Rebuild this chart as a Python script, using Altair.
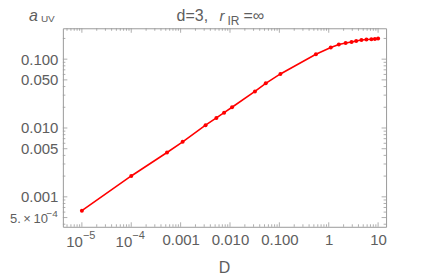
import altair as alt
import pandas as pd
import numpy as np

# ---- data ----
D_values = [1e-5, 1e-4, 5.3e-4, 1.1e-3, 3.2e-3, 5.3e-3, 7.6e-3, 0.011, 0.032, 0.053,
            0.105, 0.55, 1.1, 1.6, 2.2, 2.9, 3.6, 4.6, 5.8, 7.3, 8.6, 10.0]
a_values = [6.3e-4, 2.01e-3, 4.4e-3, 6.3e-3, 0.011, 0.014, 0.0167, 0.020, 0.034, 0.0445,
            0.061, 0.118, 0.148, 0.163, 0.172, 0.178, 0.184, 0.190, 0.193, 0.195, 0.197, 0.199]

x_tick_values = [1e-5, 1e-4, 1e-3, 1e-2, 1e-1, 1, 10]
x_tick_labels = ["", "", "0.001", "0.010", "0.100", "1", "10"]
x_pow_values = [1e-5, 1e-4]
x_pow_exps = ["−5", "−4"]

y_tick_values = [5e-4, 1e-3, 5e-3, 1e-2, 5e-2, 1e-1]
y_tick_labels = ["", "0.001", "0.005", "0.010", "0.050", "0.100"]
y_pow_values = [5e-4]
y_pow_mant = ["5.\u2009×\u200910"]
y_pow_exps = ["−4"]

x_minor = [m * 10.0 ** k for k in range(-6, 1) for m in range(2, 10)]
x_minor = [v for v in x_minor if 4.12e-6 <= v <= 14.5]
y_minor = [m * 10.0 ** k for k in range(-4, 0) for m in [2, 3, 4, 6, 7, 8, 9]]
y_minor = [v for v in y_minor if 3.67e-4 <= v <= 0.281]

W, H = 324, 199
x_domain = [4.12e-6, 14.5]
y_domain = [3.67e-4, 0.281]

TEXT = "#5e5e5e"
FRAME = "#9a9a9a"
FONT = "Liberation Sans"


def label_expr(vals, labels):
    expr = "''"
    for v, l in reversed(list(zip(vals, labels))):
        expr = f"abs(log(datum.value)/LN10 - ({np.log10(v):.4f})) < 0.01 ? '{l}' : " + expr
    return expr


xscale = alt.Scale(type="log", domain=x_domain, nice=False)
yscale = alt.Scale(type="log", domain=y_domain, nice=False)

df = pd.DataFrame({"D": D_values, "a": a_values})

xaxis = alt.Axis(values=x_tick_values, labelExpr=label_expr(x_tick_values, x_tick_labels),
                 ticks=False, domain=False, grid=False, labelFontSize=15, labelColor=TEXT,
                 labelFont=FONT, labelPadding=6, title=None, labelFlush=False)
yaxis = alt.Axis(values=y_tick_values, labelExpr=label_expr(y_tick_values, y_tick_labels),
                 ticks=False, domain=False, grid=False, labelFontSize=15, labelColor=TEXT,
                 labelFont=FONT, labelPadding=5, title=None, labelFlush=False)

X = lambda f: alt.X(f, scale=xscale, axis=xaxis)
Y = lambda f: alt.Y(f, scale=yscale, axis=yaxis)

base = alt.Chart(df)
line = base.mark_line(color="#ff0000", strokeWidth=1.6).encode(x=X("D:Q"), y=Y("a:Q"))
pts = base.mark_point(color="#ff0000", filled=True, opacity=1, size=16).encode(
    x=X("D:Q"), y=Y("a:Q"))


def xticks(vals, length):
    d = alt.Chart(pd.DataFrame({"v": vals}))
    b = d.mark_rule(color=FRAME, strokeWidth=0.8).encode(
        x=X("v:Q"), y=alt.value(H), y2=alt.value(H - length))
    t = d.mark_rule(color=FRAME, strokeWidth=0.8).encode(
        x=X("v:Q"), y=alt.value(0), y2=alt.value(length))
    return [b, t]


def yticks(vals, length):
    d = alt.Chart(pd.DataFrame({"v": vals}))
    l = d.mark_rule(color=FRAME, strokeWidth=0.8).encode(
        y=Y("v:Q"), x=alt.value(0), x2=alt.value(length))
    r = d.mark_rule(color=FRAME, strokeWidth=0.8).encode(
        y=Y("v:Q"), x=alt.value(W), x2=alt.value(W - length))
    return [l, r]


tick_layers = (xticks(x_tick_values, 4.5) + xticks(x_minor, 2.5)
               + yticks(y_tick_values, 4.5) + yticks(y_minor, 2.5))

# power-of-ten tick labels drawn as base + raised exponent
xp = alt.Chart(pd.DataFrame({"v": x_pow_values, "e": x_pow_exps}))
x_pow_base = xp.mark_text(text="10", fontSize=15, font=FONT, color=TEXT, align="right",
                          baseline="alphabetic", dx=1).encode(x=X("v:Q"), y=alt.value(H + 20))
x_pow_exp = xp.mark_text(fontSize=11, font=FONT, color=TEXT, align="left",
                         baseline="alphabetic", dx=1).encode(
    x=X("v:Q"), y=alt.value(H + 12), text="e:N")

yp = alt.Chart(pd.DataFrame({"v": y_pow_values, "m": y_pow_mant, "e": y_pow_exps}))
y_pow_base = yp.mark_text(fontSize=13, font=FONT, color=TEXT, align="right",
                          baseline="alphabetic", dy=5).encode(
    y=Y("v:Q"), x=alt.value(-15), text="m:N")
y_pow_exp = yp.mark_text(fontSize=10, font=FONT, color=TEXT, align="right",
                         baseline="alphabetic", dy=-1).encode(
    y=Y("v:Q"), x=alt.value(-5), text="e:N")

one = alt.Chart(pd.DataFrame({"k": [0]}))


def txt(s, x, y, size, italic=False, align="left"):
    return one.mark_text(text=s, fontSize=size, font=FONT, color=TEXT, align=align,
                         baseline="alphabetic",
                         fontStyle="italic" if italic else "normal").encode(
        x=alt.value(x), y=alt.value(y))


texts = [
    txt("a", -34, -7, 16, italic=True),
    txt("UV", -22, -6, 10),
    txt("d=3,", 114, -7, 16),
    txt("r", 157, -7, 15, italic=True),
    txt("IR", 165, -3, 12),
    txt("=∞", 181, -7, 16),
    txt("D", 162, 245, 16, align="center"),
]

chart = alt.layer(line, *tick_layers, pts, x_pow_base, x_pow_exp, y_pow_base, y_pow_exp,
                  *texts).properties(
    width=W, height=H,
    autosize=alt.AutoSizeParams(type="none"),
    padding={"left": 55, "top": 20, "right": 30, "bottom": 50},
).configure_view(stroke=FRAME, strokeWidth=1)

chart.save("out.html", embed_options={"renderer": "svg", "actions": False})
